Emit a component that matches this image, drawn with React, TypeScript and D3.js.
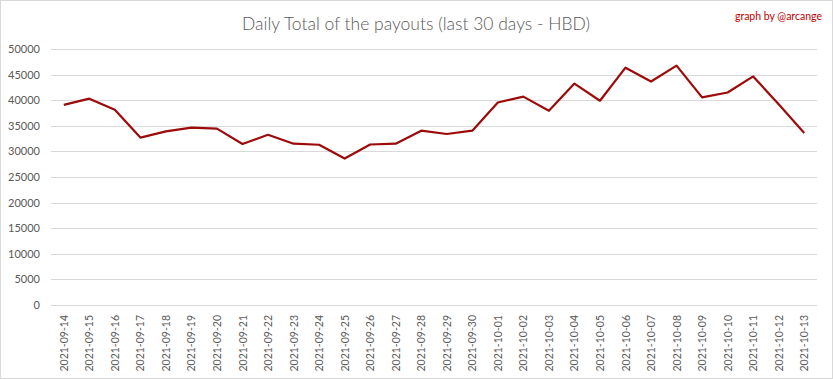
import React from "react";
import * as d3 from "d3";

const dates = [
  "2021-09-14","2021-09-15","2021-09-16","2021-09-17","2021-09-18","2021-09-19","2021-09-20",
  "2021-09-21","2021-09-22","2021-09-23","2021-09-24","2021-09-25","2021-09-26","2021-09-27",
  "2021-09-28","2021-09-29","2021-09-30","2021-10-01","2021-10-02","2021-10-03","2021-10-04",
  "2021-10-05","2021-10-06","2021-10-07","2021-10-08","2021-10-09","2021-10-10","2021-10-11",
  "2021-10-12","2021-10-13",
];
const payouts = [
  39100, 40300, 38150, 32700, 33900, 34650, 34450, 31450, 33250, 31500,
  31300, 28600, 31350, 31500, 34050, 33400, 34050, 39550, 40700, 37950,
  43250, 39900, 46350, 43650, 46750, 40550, 41500, 44650, 39200, 33600,
];
const yTicks = [0, 5000, 10000, 15000, 20000, 25000, 30000, 35000, 40000, 45000, 50000];

const W = 833, H = 379;
const left = 51, right = 817, top = 49, bottom = 305;

export default function App() {
  const x = d3.scaleBand<string>().domain(dates).range([left, right]);
  const y = d3.scaleLinear().domain([0, 50000]).range([bottom, top]);
  const line = d3.line<number>()
    .x((_, i) => (x(dates[i]) as number) + x.bandwidth() / 2)
    .y((d) => y(d));
  const font = "Lato, 'Open Sans', sans-serif";
  return (
    <svg width={W} height={H} style={{ position: "absolute", left: 0, top: 0, display: "block" }}>
      <rect x={0.5} y={0.5} width={W - 1} height={H - 1} fill="#fff" stroke="#d9d9d9" />
      <text x={416} y={30} textAnchor="middle" fontFamily={font} fontSize={17.5} fontWeight={300} fill="#595959">
        Daily Total of the payouts (last 30 days - HBD)
      </text>
      <text x={822} y={20} textAnchor="end" fontFamily={font} fontSize={10.5} fill="#c00000">
        graph by @arcange
      </text>
      {yTicks.map((t) => (
        <g key={t}>
          <line x1={left} x2={right} y1={Math.round(y(t)) + 0.5} y2={Math.round(y(t)) + 0.5} stroke="#d9d9d9" />
          <text x={40} y={y(t) + 4} textAnchor="end" fontFamily={font} fontSize={11} fill="#595959">
            {t}
          </text>
        </g>
      ))}
      {dates.map((d) => {
        const cx = (x(d) as number) + x.bandwidth() / 2;
        return (
          <text key={d} transform={`translate(${cx + 4},${315}) rotate(-90)`} textAnchor="end"
            fontFamily={font} fontSize={10.5} fill="#595959">
            {d}
          </text>
        );
      })}
      <path d={line(payouts) || ""} fill="none" stroke="#9c0a0a" strokeWidth={2.2} strokeLinejoin="round" />
    </svg>
  );
}
